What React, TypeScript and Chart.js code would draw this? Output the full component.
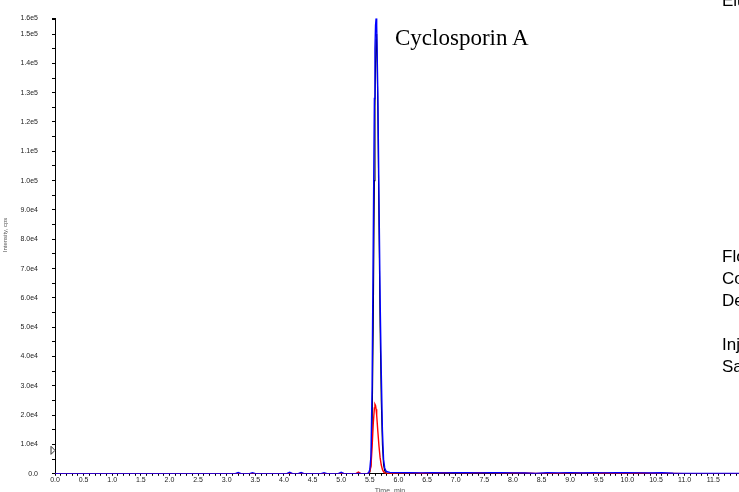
import { useEffect, useRef } from "react";
import { Chart, registerables } from "chart.js";

Chart.register(...registerables);

// Retention time axis (min)
const times = [
  0.0, 0.5, 1.0, 1.5, 2.0, 2.5, 3.0, 3.15, 3.2, 3.25, 3.4, 3.45, 3.5,
  4.0, 4.05, 4.1, 4.15, 4.25, 4.3, 4.35, 4.65, 4.7, 4.75, 4.95, 5.0, 5.05, 5.25, 5.3, 5.35,
  5.45, 5.48, 5.5, 5.52, 5.54, 5.56, 5.58, 5.59, 5.6, 5.61, 5.62, 5.64, 5.66, 5.68, 5.7, 5.72, 5.74, 5.76, 5.78, 5.8, 5.85, 5.9,
  6.0, 6.2, 6.4, 6.6, 6.8, 7.0, 7.2, 7.4, 7.6, 7.8, 8.0, 8.2, 8.4, 8.6, 8.8, 9.0, 9.2, 9.4, 9.6, 9.8, 10.0, 10.2, 10.4, 10.6, 10.8, 11.0, 11.2, 11.5, 11.95,
];

// Intensity (cps) of the three traces
const blueTrace = [
  50, 50, 50, 50, 50, 50, 50, 50, 450, 50, 50, 400, 50,
  50, 50, 500, 50, 50, 450, 50, 50, 400, 50, 50, 500, 50, 50, 100, 50,
  50, 300, 1500, 6000, 30000, 80000, 128000, 145000, 153000, 155400, 153000, 130000, 95000, 60000, 35000, 15000, 5000, 2000, 1000, 700, 500, 400,
  400, 350, 300, 400, 300, 350, 400, 300, 350, 400, 300, 250, 150, 350, 300, 400, 250, 350, 300, 400, 350, 300, 250, 350, 200, 150, 100, 100, 100,
];

const redTrace = [
  0, 0, 0, 0, 0, 0, 0, 0, 0, 0, 0, 0, 0,
  0, 0, 200, 0, 0, 300, 0, 0, 0, 0, 0, 200, 0, 0, 600, 0,
  0, 200, 800, 2500, 9000, 17000, 22500, 23700, 23300, 22000, 20000, 14500, 9500, 5500, 3000, 1500, 700, 300, 150, 100, 100, 100,
  250, 300, 200, 250, 350, 300, 250, 350, 300, 250, 300, 250, 100, 150, 100, 250, 300, 200, 250, 150, 100, 250, 200, 150, 100, 50, 50, 50, 50,
];

const blackTrace = [
  0, 0, 0, 0, 0, 0, 0, 0, 0, 0, 0, 0, 0,
  0, 0, 0, 0, 0, 0, 0, 0, 0, 0, 0, 0, 0, 0, 0, 0,
  0, 100, 500, 3000, 15000, 50000, 100000, 125000, 140000, 148000, 150000, 125000, 85000, 50000, 25000, 10000, 3000, 1000, 400, 200, 100, 100,
  100, 150, 100, 150, 100, 150, 100, 150, 100, 150, 100, 100, 50, 100, 100, 150, 100, 100, 150, 100, 100, 150, 100, 100, 50, 50, 50, 50, 50,
];

const yMax = 155400;
const yStep = 5000;
const yLabelStep = 10000;
const xMax = 11.95;
const xMinorStep = 0.1;
const xLabelEvery = 5;

const xTitle = "Time, min";
const yTitle = "Intensity, cps";
const peakLabel = "Cyclosporin A";
const topNote = "Elution: gradient";
const sideNotes = [
  "Flow rate: 0.4 mL/min",
  "Column temperature: 40 °C",
  "Detection: ESI-MS/MS (MRM)",
  "",
  "Injection volume: 5 µL",
  "Sample: whole blood",
];

function fmtY(v: number): string {
  if (v === 0) return "0.0";
  return v.toExponential(1).replace("+", "");
}

const decorPlugin = {
  id: "decor",
  afterDraw(chart: any) {
    const { ctx, chartArea, scales } = chart;
    ctx.save();
    ctx.fillStyle = "#555";
    ctx.font = '7px "Liberation Sans", Arial, sans-serif';
    ctx.textAlign = "center";
    ctx.textBaseline = "top";
    ctx.fillText(xTitle, (chartArea.left + chartArea.right) / 2 - 7, chartArea.bottom + 14);

    ctx.translate(5, (chartArea.top + chartArea.bottom) / 2 - 11);
    ctx.rotate(-Math.PI / 2);
    ctx.textBaseline = "middle";
    ctx.font = '6px "Liberation Sans", Arial, sans-serif';
    ctx.fillText(yTitle, 0, 0);
    ctx.restore();

    // small peak-start marker on the y axis
    const cy = scales.y.getPixelForValue(8000);
    const lx = chartArea.left;
    ctx.save();
    ctx.strokeStyle = "#333";
    ctx.lineWidth = 1;
    ctx.beginPath();
    ctx.moveTo(lx - 4, cy - 4);
    ctx.lineTo(lx, cy);
    ctx.lineTo(lx - 4, cy + 4);
    ctx.closePath();
    ctx.stroke();
    ctx.restore();
  },
};

export default function App() {
  const canvasRef = useRef<HTMLCanvasElement | null>(null);

  useEffect(() => {
    if (!canvasRef.current) return;
    const mk = (arr: number[]) => times.map((t, i) => ({ x: t, y: arr[i] }));
    const chart = new Chart(canvasRef.current, {
      type: "line",
      data: {
        datasets: [
          { label: "blue", data: mk(blueTrace), borderColor: "#0000ff", borderWidth: 1.4, pointRadius: 0, fill: false },
          { label: "red", data: mk(redTrace), borderColor: "#ff0000", borderWidth: 1.4, pointRadius: 0, fill: false },
          { label: "black", data: mk(blackTrace), borderColor: "#000000", borderWidth: 1.1, pointRadius: 0, fill: false },
        ],
      },
      options: {
        animation: false,
        responsive: true,
        maintainAspectRatio: false,
        layout: { padding: { top: 17, right: 0, left: 0, bottom: 0 } },
        plugins: { legend: { display: false }, tooltip: { enabled: false } },
        scales: {
          x: {
            type: "linear",
            min: 0,
            max: xMax,
            afterBuildTicks: (scale: any) => {
              const ticks = [];
              for (let i = 0; i * xMinorStep <= xMax; i++) {
                ticks.push({ value: Math.round(i * xMinorStep * 10) / 10, major: i % xLabelEvery === 0 });
              }
              scale.ticks = ticks;
            },
            afterFit: (scale: any) => {
              scale.height = 17;
            },
            ticks: {
              autoSkip: false,
              maxRotation: 0,
              minRotation: 0,
              padding: 0,
              color: "#222",
              font: { family: '"Liberation Sans", Arial, sans-serif', size: 7 },
              callback: (value: any) => {
                const v = Number(value);
                const idx = Math.round(v / xMinorStep);
                return idx % xLabelEvery === 0 ? v.toFixed(1) : "";
              },
            },
            grid: { display: true, drawOnChartArea: false, drawTicks: true, tickLength: 2, tickColor: "#000" },
            border: { display: true, color: "#000", width: 1 },
          },
          y: {
            type: "linear",
            min: 0,
            max: yMax,
            afterBuildTicks: (scale: any) => {
              const ticks = [];
              for (let v = 0; v < yMax; v += yStep) ticks.push({ value: v });
              ticks.push({ value: yMax });
              scale.ticks = ticks;
            },
            afterFit: (scale: any) => {
              scale.width = 55;
            },
            ticks: {
              autoSkip: false,
              padding: 14,
              color: "#222",
              font: { family: '"Liberation Sans", Arial, sans-serif', size: 7 },
              callback: (value: any) => {
                const v = Number(value);
                if (v === yMax || v % yLabelStep === 0) return fmtY(v);
                return "";
              },
            },
            grid: { display: true, drawOnChartArea: false, drawTicks: true, tickLength: 3, tickColor: "#000" },
            border: { display: true, color: "#000", width: 1 },
          },
        },
      },
      plugins: [decorPlugin],
    } as any);
    return () => chart.destroy();
  }, []);

  return (
    <div style={{ position: "absolute", left: 0, top: 0, width: 739, height: 492, overflow: "hidden", background: "#fff" }}>
      <canvas ref={canvasRef} style={{ position: "absolute", left: 0, top: 0 }} />
      <div
        style={{
          position: "absolute",
          left: 395,
          top: 26,
          font: '23px "Liberation Serif", "Times New Roman", serif',
          lineHeight: "23px",
          color: "#000",
          whiteSpace: "nowrap",
        }}
      >
        {peakLabel}
      </div>
      <div
        style={{
          position: "absolute",
          left: 722,
          top: -10,
          font: '17px "Liberation Sans", Arial, sans-serif',
          lineHeight: "22px",
          color: "#000",
          whiteSpace: "nowrap",
        }}
      >
        {topNote}
      </div>
      <div
        style={{
          position: "absolute",
          left: 722,
          top: 246,
          font: '17px "Liberation Sans", Arial, sans-serif',
          lineHeight: "22px",
          color: "#000",
          whiteSpace: "nowrap",
        }}
      >
        {sideNotes.map((s, i) => (
          <div key={i} style={{ height: 22 }}>{s}</div>
        ))}
      </div>
    </div>
  );
}
